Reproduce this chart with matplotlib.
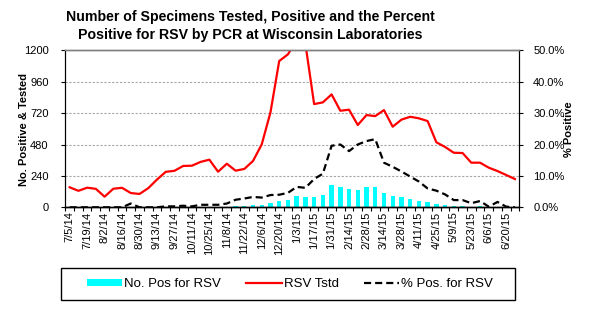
import matplotlib
matplotlib.use("Agg")
import matplotlib.pyplot as plt
from matplotlib.lines import Line2D
from matplotlib.patches import Patch, Rectangle
from matplotlib.ticker import FuncFormatter, FixedLocator

plt.rcParams["font.family"] = ["Liberation Sans", "DejaVu Sans"]

# Weekly counts, week ending 7/5/14 through 6/27/15
rsv_tested = [153, 126, 150, 141, 81, 142, 149, 109, 102, 146, 212, 271, 279, 316,
              318, 347, 364, 272, 333, 280, 293, 354, 481, 726, 1118, 1169, 1280,
              1250, 789, 802, 863, 738, 746, 629, 705, 697, 743, 616, 670, 692, 680,
              659, 497, 461, 417, 415, 341, 341, 303, 277, 247, 216]
rsv_positive = [0, 0, 0, 0, 0, 0, 0, 2, 0, 0, 0, 1, 1, 1, 1, 3, 4, 3, 5, 8, 12, 18,
                20, 35, 48, 56, 86, 79, 79, 94, 170, 155, 140, 132, 155, 155, 109, 86,
                79, 63, 48, 43, 25, 18, 12, 10, 6, 7, 1, 5, 1, 0]
pct_positive = [0, 0, 0, 0, 0, 0, 0, 1.2, 0, 0, 0, 0.3, 0.3, 0.5, 0.3, 0.8, 0.8, 0.8,
                1.2, 2.4, 2.8, 3.3, 3.1, 3.9, 4.0, 4.6, 6.5, 6.2, 9.0, 10.7, 19.6,
                20.0, 17.9, 20.0, 21.1, 21.7, 14.2, 12.9, 11.4, 9.8, 8.2, 6.0, 5.3,
                4.1, 2.3, 2.3, 1.3, 2.0, 0.2, 1.7, 0.2, 0.0]
week_labels = ["7/5/14", "7/19/14", "8/2/14", "8/16/14", "8/30/14", "9/13/14",
               "9/27/14", "10/11/14", "10/25/14", "11/8/14", "11/22/14", "12/6/14",
               "12/20/14", "1/3/15", "1/17/15", "1/31/15", "2/14/15", "2/28/15",
               "3/14/15", "3/28/15", "4/11/15", "4/25/15", "5/9/15", "5/23/15",
               "6/6/15", "6/20/15"]
left_ticks = [0, 240, 480, 720, 960, 1200]
right_ticks = [0, 10, 20, 30, 40, 50]

W, H = 590, 333
n = len(rsv_tested)
x = list(range(n))

fig = plt.figure(figsize=(W / 100, H / 100), dpi=100)
ax = fig.add_axes([65.3 / W, 1 - 207.3 / H, 454 / W, 157 / H])
ax2 = ax.twinx()

ax.bar(x, rsv_positive, width=0.5, color="#00FFFF", zorder=2)
ax.plot(x, rsv_tested, color="#FF0000", lw=1.6, zorder=3)
ax2.plot(x, pct_positive, color="black", lw=1.6, dashes=(3.2, 1.8), zorder=3)

ax.set_xlim(-0.5, n - 0.5)
ax.set_ylim(0, 1200)
ax2.set_ylim(0, 50)

ax.set_yticks(left_ticks)
ax2.set_yticks(right_ticks)
ax2.yaxis.set_major_formatter(FuncFormatter(lambda v, p: f"{v:.1f}%"))

ax.set_xticks(list(range(0, n, 2)))
ax.set_xticklabels(week_labels, rotation=90, fontsize=8)
ax.xaxis.set_minor_locator(FixedLocator([k - 0.5 for k in range(n + 1)]))
ax.tick_params(axis="x", which="major", length=0, pad=3)
ax.tick_params(axis="x", which="minor", length=3, width=0.8, direction="out")
ax.tick_params(axis="y", labelsize=8, length=3, width=0.8, pad=9)
ax2.tick_params(axis="y", labelsize=8, length=3, width=0.8, pad=7)

ax.yaxis.grid(True, color="#A6A6A6", linestyle=(0, (2, 1.5)), linewidth=0.8)
ax.set_axisbelow(True)

for a in (ax, ax2):
    a.spines["top"].set_color("#808080")
    a.spines["left"].set_color("black")
    a.spines["right"].set_color("black")
    a.spines["bottom"].set_color("black")
    a.spines["top"].set_linewidth(1.0)
    a.spines["bottom"].set_linewidth(1.0)

fig.text(24 / W, 1 - 129 / H, "No. Positive & Tested", rotation=90,
         ha="center", va="center", fontsize=8, fontweight="bold")
fig.text(569 / W, 1 - 129 / H, "% Positive", rotation=90,
         ha="center", va="center", fontsize=8, fontweight="bold")

fig.text(250 / W, 1 - 26 / H,
         "Number of Specimens Tested, Positive and the Percent\n"
         "Positive for RSV by PCR at Wisconsin Laboratories",
         ha="center", va="center", fontsize=10.2, fontweight="bold",
         linespacing=1.35)

# Legend box
fig.patches.append(Rectangle((61 / W, 1 - 300 / H), 454 / W, 32 / H,
                             transform=fig.transFigure, facecolor="white",
                             edgecolor="black", linewidth=1.0))

handles = [Patch(facecolor="#00FFFF", edgecolor="none"),
           Line2D([], [], color="#FF0000", lw=1.6),
           Line2D([], [], color="black", lw=1.6, dashes=(3.2, 1.8))]
labels = ["No. Pos for RSV", "RSV Tstd", "% Pos. for RSV"]
leg = fig.legend(handles, labels, ncol=3, loc="center",
                 bbox_to_anchor=(290 / W, 1 - 284 / H), fontsize=9.5,
                 frameon=False, handlelength=2.7, handleheight=0.5,
                 handletextpad=0.15, columnspacing=1.9, borderpad=0.2)

fig.savefig("out.png", dpi=100)
